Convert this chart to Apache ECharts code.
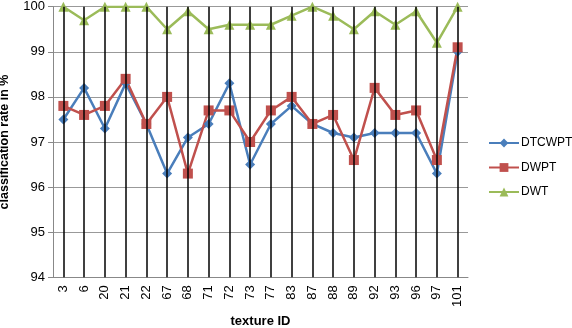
<!DOCTYPE html>
<html><head><meta charset="utf-8">
<script src="https://cdn.jsdelivr.net/npm/echarts@6/dist/echarts.min.js"></script>
<style>html,body{margin:0;padding:0;background:#fff}#c{width:572px;height:328px}</style>
</head><body><div id="c"></div>
<script>
const categories = ['3','6','20','21','22','67','68','71','72','73','77','83','87','88','89','92','93','96','97','101'];
const dtcwpt = [97.5,98.2,97.3,98.3,97.4,96.3,97.1,97.4,98.3,96.5,97.4,97.8,97.4,97.2,97.1,97.2,97.2,97.2,96.3,99.0];
const dwpt   = [97.8,97.6,97.8,98.4,97.4,98.0,96.3,97.7,97.7,97.0,97.7,98.0,97.4,97.6,96.6,98.2,97.6,97.7,96.6,99.1];
const dwt    = [100,99.7,100,100,100,99.5,99.9,99.5,99.6,99.6,99.6,99.8,100,99.8,99.5,99.9,99.6,99.9,99.2,100];
const yTicks = [94,95,96,97,98,99,100];

const FONT = '"Liberation Sans", "Open Sans", sans-serif';
const chart = echarts.init(document.getElementById('c'), null, {renderer:'canvas'});
const mk = (name, data, color, symbol, size) => ({
  name, type:'line', data, z:3,
  itemStyle:{color},
  lineStyle:{color, width:2.5},
  symbol, symbolSize:size, showSymbol:true, animation:false
});
chart.setOption({
  animation:false,
  grid:{left:53, right:104, top:6.7, bottom:50.7, outerBoundsMode:'none', containLabel:false},
  legend:{
    orient:'vertical', left:488, top:137, itemGap:12.5, itemWidth:30, itemHeight:11,
    padding:0,
    data:['DTCWPT','DWPT','DWT'],
    textStyle:{fontFamily:FONT, fontSize:12, color:'#000', padding:[0,0,0,-3]}
  },
  xAxis:{
    type:'category', data:categories, boundaryGap:true,
    name:'texture ID', nameLocation:'middle', nameGap:38,
    nameTextStyle:{fontFamily:FONT, fontSize:13, fontWeight:'bold', color:'#000'},
    axisLine:{lineStyle:{color:'#888', width:1}},
    axisTick:{show:false},
    axisLabel:{rotate:90, margin:8, fontFamily:FONT, fontSize:13, color:'#000'}
  },
  yAxis:{
    type:'value', min:yTicks[0], max:yTicks[yTicks.length-1], interval:1,
    name:'classification rate in %', nameLocation:'middle', nameGap:42,
    nameTextStyle:{fontFamily:FONT, fontSize:12.5, fontWeight:'bold', color:'#000'},
    axisLine:{show:true, lineStyle:{color:'#888', width:1}},
    axisTick:{show:true, length:5, lineStyle:{color:'#888'}},
    axisLabel:{margin:8, fontFamily:FONT, fontSize:13, color:'#000'},
    splitLine:{lineStyle:{color:'#999', width:1}}
  },
  series:[
    {
      name:'drop', type:'line', data:[], z:1, silent:true,
      markLine:{
        silent:true, symbol:'none', animation:false,
        label:{show:false},
        lineStyle:{color:'#000', width:1.5, type:'solid'},
        data: categories.map(c => ({xAxis:c}))
      }
    },
    mk('DTCWPT', dtcwpt, '#4A7EBB', 'diamond', 10),
    mk('DWPT', dwpt, '#C0504D', 'rect', 10),
    mk('DWT', dwt, '#9BBB59', 'triangle', 10)
  ]
});
</script></body></html>
